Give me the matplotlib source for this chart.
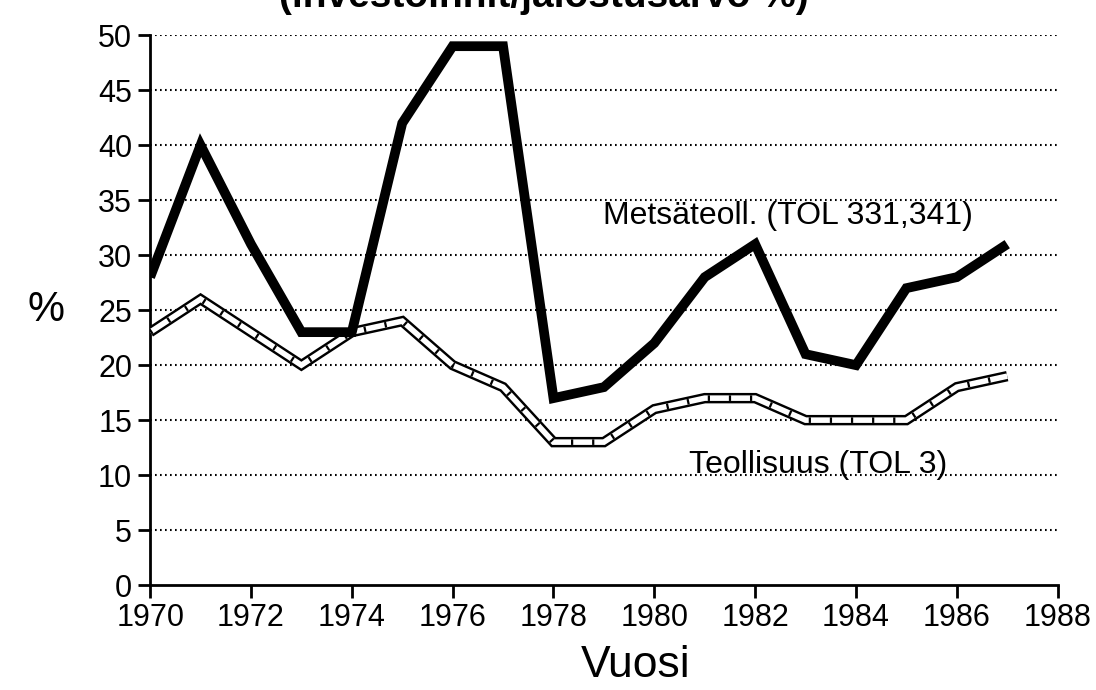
import matplotlib.pyplot as plt

plt.rcParams['font.family'] = ['Liberation Sans', 'DejaVu Sans']

vuodet = list(range(1970, 1988))
metsateoll = [28, 40, 31, 23, 23, 42, 49, 49, 17, 18, 22, 28, 31, 21, 20, 27, 28, 31]
teollisuus = [23, 26, 23, 20, 23, 24, 20, 18, 13, 13, 16, 17, 17, 15, 15, 15, 18, 19]
x_ticks = list(range(1970, 1989, 2))
y_ticks = list(range(0, 51, 5))

fig = plt.figure(figsize=(10.96, 6.9), dpi=100)
ax = fig.add_axes([0.137, 0.152, 0.828, 0.797])

# vaakaviivat
for y in y_ticks[1:]:
    ax.axhline(y, color='black', lw=1.5, ls=(0, (0.8, 1.6)), zorder=1)

# teollisuus: valkoinen viiva mustin reunoin ja poikkiviivoin
ax.plot(vuodet, teollisuus, color='black', lw=7.5, solid_joinstyle='miter',
        solid_capstyle='butt', zorder=2)
ax.plot(vuodet, teollisuus, color='white', lw=4.0, solid_joinstyle='miter',
        solid_capstyle='butt', zorder=3)
ax.plot(vuodet, teollisuus, color='black', lw=4.0, ls=(0, (0.4, 3.4)),
        dash_capstyle='butt', zorder=4)

ax.plot(vuodet, metsateoll, color='black', lw=7, solid_joinstyle='miter',
        solid_capstyle='butt', zorder=5)

ax.set_xlim(1970, 1988)
ax.set_ylim(0, 50)
ax.set_xticks(x_ticks)
ax.set_yticks(y_ticks)
ax.tick_params(axis='both', labelsize=22, width=2, length=9, direction='out',
               pad=4)
for s in ['top', 'right']:
    ax.spines[s].set_visible(False)
for s in ['left', 'bottom']:
    ax.spines[s].set_linewidth(2)

ax.text(1982.65, 33.6, 'Metsäteoll. (TOL 331,341)', fontsize=23, ha='center', va='center')
ax.text(1983.25, 10.9, 'Teollisuus (TOL 3)', fontsize=23, ha='center', va='center')

fig.text(0.042, 0.55, '%', fontsize=30, ha='center', va='center')
fig.text(0.58, 0.036, 'Vuosi', fontsize=32, ha='center', va='center')
fig.text(0.496, 1.005, '(investoinnit/jalostusarvo %)', fontsize=28, ha='center',
         va='center', fontweight='bold')

fig.savefig('out.png', dpi=100)
